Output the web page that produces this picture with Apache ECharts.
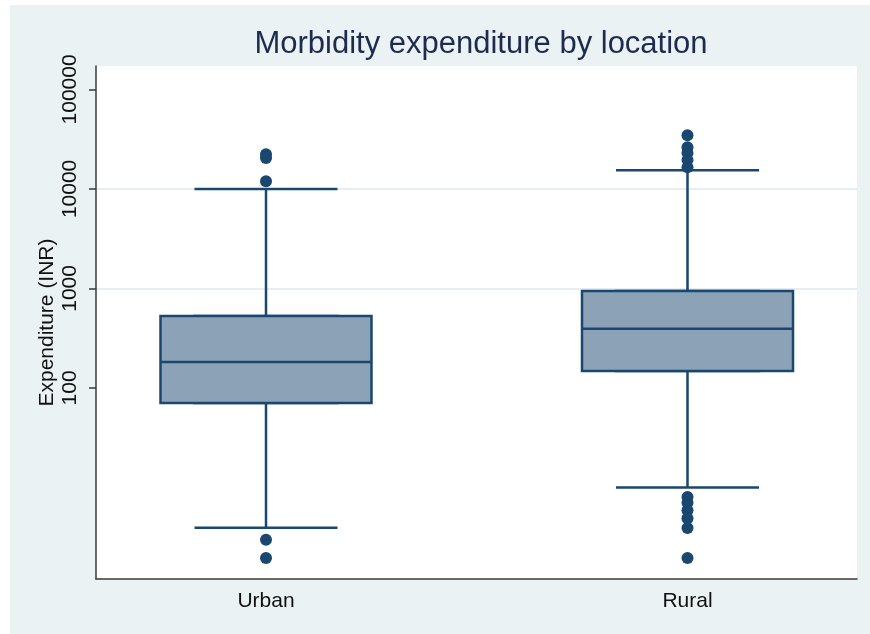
<!DOCTYPE html>
<html><head><meta charset="utf-8">
<script src="https://cdn.jsdelivr.net/npm/echarts@6/dist/echarts.min.js"></script>
<style>
html,body{margin:0;padding:0;background:#fff}
#wrap{position:relative;width:870px;height:634px;background:#fff}
#panel{position:absolute;left:10px;top:5px;width:860px;height:629px;background:#EAF2F3}
#c{position:absolute;left:0;top:0;width:870px;height:634px}
</style>
</head><body>
<div id="wrap"><div id="panel"></div><div id="c"></div></div>
<script>
const categories = ['Urban', 'Rural'];
const whiskerLow = [3.94, 9.95];
const q1 = [70.7, 148];
const median = [182, 392];
const q3 = [529, 944];
const whiskerHigh = [10000, 15400];
const outliersUrban = [22300, 20400, 11950, 2.97, 1.95];
const outliersRural = [34700, 26300, 22900, 19500, 16500, 8.0, 7.0, 5.9, 4.9, 3.9, 1.95];
const yTickValues = [100, 1000, 10000, 100000];
const yMin = 1.2, yMax = 172000;

const FONT = 'Liberation Sans, Arial, sans-serif';
const NAVY = '#1A476F';
const FILL = '#8CA2B7';

const chart = echarts.init(document.getElementById('c'), null, {renderer: 'canvas'});

const outlierData = [];
outliersUrban.forEach(v => outlierData.push([categories[0], v]));
outliersRural.forEach(v => outlierData.push([categories[1], v]));

const option = {
  animation: false,
  backgroundColor: 'transparent',
  title: {
    text: 'Morbidity expenditure by location',
    left: 476, top: 24, textAlign: 'center',
    textStyle: {fontFamily: FONT, fontSize: 31, fontWeight: 'normal', color: '#1F2B4E'}
  },
  grid: [
    {left: 96, top: 66, width: 761, height: 513, show: true, backgroundColor: '#fff', borderWidth: 0},
    {left: 266, top: 66, width: 421.5, height: 513}
  ],
  xAxis: [
    {gridIndex: 0, type: 'category', data: categories,
     axisLine: {show: true, lineStyle: {color: '#3a3a3a', width: 1.5}},
     axisTick: {show: false}, axisLabel: {show: false}, splitLine: {show: false}},
    {gridIndex: 1, type: 'category', data: categories, position: 'bottom', boundaryGap: false,
     axisLine: {show: false}, axisTick: {show: false}, splitLine: {show: false},
     axisLabel: {fontFamily: FONT, fontSize: 21, color: '#111', margin: 12}},
    {gridIndex: 1, type: 'category', data: categories, position: 'top', boundaryGap: false, show: false}
  ],
  yAxis: [
    {gridIndex: 0, type: 'log', logBase: 10, min: yMin, max: yMax,
     name: 'Expenditure (INR)', nameLocation: 'middle', nameGap: 38, nameMoveOverlap: false,
     nameTextStyle: {fontFamily: FONT, fontSize: 21, color: '#111'},
     axisLine: {show: true, lineStyle: {color: '#3a3a3a', width: 1.5}},
     axisTick: {show: true, length: 7, customValues: yTickValues, lineStyle: {color: '#3a3a3a', width: 1.5}},
     axisLabel: {customValues: yTickValues, rotate: 90, fontFamily: FONT, fontSize: 21, color: '#111', margin: 15,
                 formatter: v => String(Math.round(v))},
     splitLine: {show: true, showMinLine: false, showMaxLine: false, lineStyle: {color: '#E6EEF1', width: 2}}},
    {gridIndex: 1, type: 'log', logBase: 10, min: yMin, max: yMax, show: false}
  ],
  series: [
    {
      type: 'boxplot', xAxisIndex: 2, yAxisIndex: 1, silent: true,
      boxWidth: [143, 143],
      itemStyle: {color: FILL, borderColor: NAVY, borderWidth: 2.5},
      emphasis: {disabled: true},
      data: categories.map((c, i) => [whiskerLow[i], q1[i], median[i], q3[i], whiskerHigh[i]])
    },
    {
      type: 'boxplot', xAxisIndex: 1, yAxisIndex: 1, silent: true,
      boxWidth: [211, 211],
      itemStyle: {color: FILL, borderColor: NAVY, borderWidth: 2.5},
      emphasis: {disabled: true},
      data: categories.map((c, i) => [q1[i], q1[i], median[i], q3[i], q3[i]])
    },
    {
      type: 'scatter', xAxisIndex: 1, yAxisIndex: 1, silent: true, clip: false,
      symbol: 'circle', symbolSize: 12,
      itemStyle: {color: NAVY, opacity: 1},
      data: outlierData
    }
  ]
};
chart.setOption(option);
</script>
</body></html>
